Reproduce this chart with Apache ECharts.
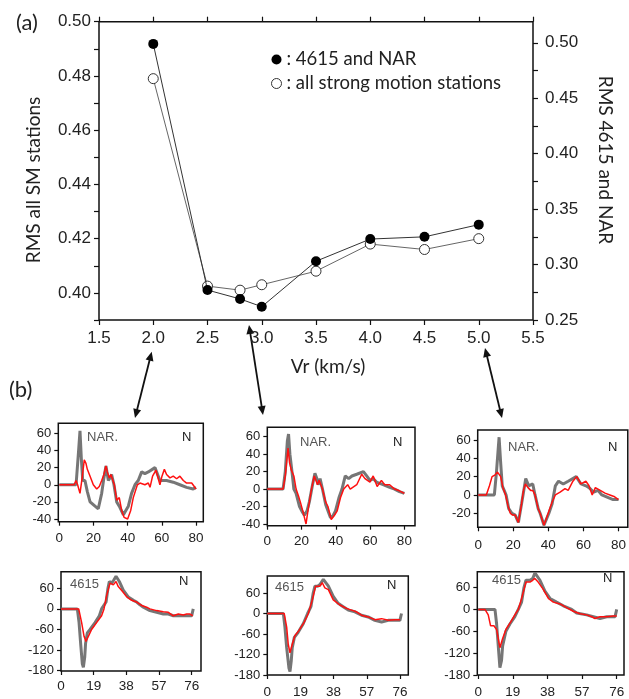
<!DOCTYPE html>
<html>
<head>
<meta charset="utf-8">
<script src="https://cdn.jsdelivr.net/npm/echarts@6/dist/echarts.min.js"></script>
<style>
  html, body { margin: 0; padding: 0; background: #fff; }
  #chart { width: 629px; height: 699px; }
</style>
</head>
<body>
<div id="chart"></div>
<script>
// ---------- (a) RMS misfit against rupture velocity ----------
const vr = [2.0, 2.5, 2.8, 3.0, 3.5, 4.0, 4.5, 5.0];
const rmsNarStations = [0.499, 0.277, 0.269, 0.262, 0.303, 0.323, 0.325, 0.336];
const rmsAllStations = [0.479, 0.4025, 0.401, 0.403, 0.408, 0.418, 0.416, 0.420];

const vrTicks = [1.5, 2.0, 2.5, 3.0, 3.5, 4.0, 4.5, 5.0, 5.5];
const leftTicks = [0.39, 0.40, 0.41, 0.42, 0.43, 0.44, 0.45, 0.46, 0.47, 0.48, 0.49, 0.50];
const leftLabels = [0.40, 0.42, 0.44, 0.46, 0.48, 0.50];
const rightTicks = [0.25, 0.275, 0.30, 0.325, 0.35, 0.375, 0.40, 0.425, 0.45, 0.475, 0.50];
const rightLabels = [0.25, 0.30, 0.35, 0.40, 0.45, 0.50];

// ---------- (b) waveforms: [time, value], observed (grey) and synthetic (red) ----------
const narObsVr20 = [[0,0],[9.8,0],[11.3,40],[12.1,63],[12.9,30],[13.7,5],[15.0,5],[16.4,-8],[18.0,-20],[20.9,-25],[22.8,-28],[24.8,-10],[26.1,8],[27.3,22],[28.7,5],[29.7,8],[30.6,12],[32.0,0],[33.6,-20],[35.1,-25],[37.5,-35],[40.4,-25],[42.3,-10],[44.3,0],[46.2,5],[48.2,15],[50.1,13],[52.1,15],[56.0,20],[57.0,18],[58.9,5],[62.8,5],[66.7,3],[70.6,0],[74.5,-3],[78.4,-5],[80,-3]];
const narSynVr20 = [[0,0],[8.6,0],[9.8,5],[10.7,0],[12.1,-10],[13.5,10],[14.6,29],[15.6,25],[16.4,18],[18.0,10],[19.9,0],[21.9,-5],[23.4,-2],[24.8,5],[26.1,12],[27.3,22],[28.1,15],[29.3,8],[30.2,12],[31.2,14],[32.2,0],[33.6,-18],[34.5,-20],[35.1,-15],[36.5,-30],[37.9,-38],[40.0,-40],[41.8,-30],[43.3,-15],[45.7,0],[47.2,2],[50.1,0],[52.1,2],[53.1,-3],[54.6,10],[56.6,17],[57.6,15],[58.9,0],[60.1,10],[61.5,18],[62.8,12],[64.8,8],[66.7,10],[68.7,7],[70.6,10],[72.6,5],[74.5,2],[77.5,2],[79.0,-2],[80,-5]];

const narObsVr28 = [[0,0],[9.2,0],[10.5,20],[11.7,55],[12.4,63],[13.2,40],[14.4,20],[15.5,0],[16.8,-5],[18.8,-20],[20.1,-25],[21.6,-30],[23.2,-25],[24.5,-15],[26.4,5],[27.8,18],[28.9,12],[29.7,5],[30.8,12],[32.2,0],[34.1,-18],[35.0,-20],[36.9,-33],[38.5,-30],[39.8,-25],[41.8,-10],[43.6,0],[45.5,15],[47.5,12],[49.4,15],[52.2,17],[56.1,20],[58.0,15],[59.9,10],[61.8,12],[63.7,8],[67.6,5],[71.4,2],[74.3,0],[77.1,-3],[80,-5]];
const narSynVr28 = [[0,0],[9.2,0],[10.5,15],[12.1,47],[13.0,30],[14.0,22],[15.5,15],[16.8,0],[18.2,-8],[19.3,-15],[20.7,-25],[22.6,-40],[24.1,-20],[25.8,0],[27.4,15],[28.3,17],[29.3,5],[30.2,10],[31.2,8],[32.2,0],[34.1,-15],[35.4,-20],[37.3,-35],[39.2,-30],[40.8,-25],[42.7,-10],[44.6,0],[46.9,5],[48.4,0],[49.4,-2],[52.2,5],[55.1,17],[57.0,12],[59.9,8],[61.8,15],[64.1,3],[66.6,10],[68.5,5],[71.4,5],[74.3,0],[77.1,-2],[80,-5]];

const narObsVr50 = [[0,0],[9.2,0],[10.4,25],[11.9,63],[12.8,35],[13.7,10],[14.8,5],[15.9,0],[17.4,-15],[19.2,-20],[21.1,-22],[22.9,-30],[24.7,-10],[26.0,5],[27.1,18],[28.8,10],[29.9,8],[31.1,12],[32.4,0],[34.2,-15],[35.3,-20],[36.4,-18],[37.5,-33],[40.3,-20],[42.1,-10],[44.0,10],[45.8,15],[48.5,12],[51.3,15],[55.9,20],[58.6,12],[61.4,10],[63.2,8],[65.9,3],[68.3,5],[70.5,0],[74.2,-3],[76.9,-5],[80,-5]];
const narSynVr50 = [[0,0],[4.6,0],[6.4,10],[7.9,20],[9.7,22],[11.0,25],[11.9,27],[12.8,20],[14.1,8],[15.6,0],[17.0,-12],[18.3,-20],[19.6,-22],[21.1,-22],[22.9,-30],[24.7,-10],[25.8,5],[26.9,12],[28.4,8],[29.9,5],[31.1,5],[32.4,0],[34.2,-15],[35.3,-20],[37.5,-33],[39.9,-20],[42.1,-8],[44.0,0],[46.7,3],[49.5,7],[51.3,5],[54.0,15],[56.2,20],[58.6,12],[61.4,15],[63.2,10],[65.0,0],[66.8,8],[69.6,5],[72.3,2],[75.1,0],[77.8,-2],[80,-5]];

const st4615ObsVr20 = [[0,0],[9.5,0],[10.5,-40],[11.4,-100],[12.4,-160],[13.0,-170],[13.8,-140],[14.3,-100],[15.3,-70],[16.9,-60],[19.8,-40],[22.3,-20],[23.6,0],[26.2,20],[27.3,60],[28.1,80],[29.5,75],[30.8,85],[32.0,95],[33.9,80],[36.2,55],[39.1,35],[42.1,25],[44.0,20],[45.9,12],[47.9,5],[51.7,-5],[55.6,-10],[59.5,-15],[62.4,-15],[65.3,-20],[69.2,-20],[73.1,-20],[76.0,-20],[76.9,0]];
const st4615SynVr20 = [[0,0],[10.3,0],[12.0,-40],[13.4,-80],[14.5,-95],[15.9,-80],[17.8,-60],[20.7,-40],[23.6,-20],[25.0,0],[26.6,40],[28.5,75],[30.4,70],[32.0,80],[33.3,65],[35.9,50],[38.2,35],[41.1,25],[44.0,20],[46.9,10],[49.8,5],[51.7,0],[52.7,5],[55.6,-5],[59.5,-8],[62.4,-10],[65.3,-20],[68.2,-15],[71.1,-18],[73.1,-15],[75.0,-15],[76.6,-20]];

const st4615ObsVr28 = [[0,0],[9.2,0],[10.1,-40],[11.1,-100],[12.4,-160],[13.0,-170],[13.7,-140],[14.3,-100],[15.5,-70],[17.7,-55],[20.6,-30],[23.1,0],[25.0,20],[26.3,60],[27.3,80],[28.8,80],[30.2,85],[32.1,100],[35.0,80],[37.8,50],[40.6,30],[43.5,20],[46.4,10],[50.2,5],[54.0,-5],[57.8,-10],[61.6,-20],[65.5,-25],[69.3,-20],[73.1,-20],[76.0,-20],[76.9,0]];
const st4615SynVr28 = [[0,0],[9.7,0],[11.1,-40],[12.0,-90],[13.0,-115],[14.3,-90],[15.8,-65],[18.1,-50],[21.2,-25],[23.5,0],[25.8,40],[27.7,80],[30.2,80],[31.5,90],[33.0,75],[35.0,70],[37.8,40],[41.6,25],[45.4,15],[48.3,10],[51.1,5],[54.0,-5],[57.8,-10],[61.6,-18],[65.5,-15],[69.3,-20],[73.1,-18],[76.0,-18]];

const st4615ObsVr50 = [[0,0],[9.2,0],[10.1,-40],[11.0,-100],[11.9,-160],[12.3,-165],[12.8,-140],[13.4,-100],[15.2,-60],[17.4,-40],[20.1,-20],[22.0,0],[23.8,20],[25.1,60],[26.2,80],[28.4,80],[29.9,85],[31.1,100],[33.9,80],[36.6,50],[39.4,30],[43.0,20],[46.7,10],[51.3,0],[54.0,-10],[59.5,-15],[63.2,-20],[66.8,-25],[70.5,-20],[75.1,-20],[76.0,0]];
const st4615SynVr50 = [[0,0],[3.7,0],[5.5,-15],[6.8,-45],[8.6,-45],[10.1,-55],[11.0,-80],[11.9,-105],[13.4,-80],[15.2,-55],[17.8,-35],[20.1,-15],[22.0,0],[23.8,30],[26.2,75],[28.4,75],[29.9,80],[31.1,85],[32.9,75],[35.7,55],[38.5,30],[41.2,20],[44.9,15],[48.5,5],[52.2,-5],[55.9,-12],[59.5,-15],[62.3,-20],[64.1,-25],[66.8,-20],[70.5,-20],[74.2,-18],[76.0,-18]];

const narTimeTicks = [0, 20, 40, 60, 80];
const st4615TimeTicks = [0, 19, 38, 57, 76];
const narAmpTicks = [-40, -20, 0, 20, 40, 60];
const narAmpTicksVr50 = [-20, 0, 20, 40, 60];
const st4615AmpTicks = [-180, -120, -60, 0, 60];

// ---------- layout ----------
const FONT = 'Liberation Sans';
const NAME_FONT = 'Lato';

const panels = [
  { box: [58.3, 423.3, 145, 98.4], x: [-0.6, 84.3], y: [-43.1, 71.7], xt: narTimeTicks, yt: narAmpTicks, obs: narObsVr20, syn: narSynVr20, margin: 10 },
  { box: [267.3, 427.3, 147.7, 98.4], x: [0, 86.2], y: [-42, 70.8], xt: narTimeTicks, yt: narAmpTicks, obs: narObsVr28, syn: narSynVr28, margin: 9 },
  { box: [477.7, 430, 156, 97.3], x: [-0.3, 85.3], y: [-35.3, 70.9], xt: narTimeTicks, yt: narAmpTicksVr50, obs: narObsVr50, syn: narSynVr50, margin: 11 },
  { box: [61, 571.7, 140, 99.3], x: [0, 81.4], y: [-181, 108.4], xt: st4615TimeTicks, yt: st4615AmpTicks, obs: st4615ObsVr20, syn: st4615SynVr20, margin: 8 },
  { box: [267.3, 576, 141, 100.7], x: [0, 80.8], y: [-180, 109.8], xt: st4615TimeTicks, yt: st4615AmpTicks, obs: st4615ObsVr28, syn: st4615SynVr28, margin: 10 },
  { box: [477.3, 571.7, 146.7, 104.3], x: [-0.5, 80], y: [-180, 103.5], xt: st4615TimeTicks, yt: st4615AmpTicks, obs: st4615ObsVr50, syn: st4615SynVr50, margin: 10 }
];

const panelText = [
  { t: 'NAR.', x: 87, y: 437, n: [182, 437] },
  { t: 'NAR.', x: 300, y: 442, n: [393, 442] },
  { t: 'NAR.', x: 508, y: 447, n: [608, 447] },
  { t: '4615', x: 70, y: 584, n: [179, 581] },
  { t: '4615', x: 275, y: 587, n: [387, 585] },
  { t: '4615', x: 492, y: 580, n: [603, 578] }
];

const tickStyle = { color: '#111', width: 1.2 };
const noLine = { show: false, onZero: false };

const grids = [{ left: 99, top: 21.7, width: 434, height: 298.3, show: true, borderColor: '#111', borderWidth: 1.5, backgroundColor: 'transparent' }];
const xAxes = [
  { gridIndex: 0, type: 'value', position: 'bottom', min: 1.5, max: 5.5,
    axisLine: noLine, splitLine: { show: false },
    axisTick: { show: true, inside: false, length: 5, customValues: vrTicks, lineStyle: tickStyle },
    axisLabel: { customValues: vrTicks, formatter: v => v.toFixed(1), fontFamily: FONT, fontSize: 17, color: '#222', margin: 10 } },
  { gridIndex: 0, type: 'value', position: 'top', min: 1.5, max: 5.5,
    axisLine: noLine, splitLine: { show: false },
    axisTick: { show: true, inside: false, length: 5, customValues: vrTicks, lineStyle: tickStyle },
    axisLabel: { show: false } }
];
const yAxes = [
  { gridIndex: 0, type: 'value', position: 'left', min: 0.39, max: 0.50,
    axisLine: noLine, splitLine: { show: false },
    axisTick: { show: true, inside: false, length: 5, customValues: leftTicks, lineStyle: tickStyle },
    axisLabel: { customValues: leftLabels, formatter: v => v.toFixed(2), fontFamily: FONT, fontSize: 17, color: '#222', margin: 8 } },
  { gridIndex: 0, type: 'value', position: 'right', min: 0.25, max: 0.519,
    axisLine: noLine, splitLine: { show: false },
    axisTick: { show: true, inside: false, length: 5, customValues: rightTicks, lineStyle: tickStyle },
    axisLabel: { customValues: rightLabels, formatter: v => v.toFixed(2), fontFamily: FONT, fontSize: 17, color: '#222', margin: 12 } }
];
const series = [
  { type: 'line', name: 'all strong motion stations', xAxisIndex: 0, yAxisIndex: 0,
    data: vr.map((v, i) => [v, rmsAllStations[i]]),
    symbol: 'circle', symbolSize: 10,
    itemStyle: { color: '#fff', borderColor: '#333', borderWidth: 1 },
    lineStyle: { color: '#666', width: 1 }, z: 3 },
  { type: 'line', name: '4615 and NAR', xAxisIndex: 0, yAxisIndex: 1,
    data: vr.map((v, i) => [v, rmsNarStations[i]]),
    symbol: 'circle', symbolSize: 10,
    itemStyle: { color: '#000' },
    lineStyle: { color: '#333', width: 1 }, z: 4 }
];

panels.forEach((p, k) => {
  const gi = k + 1;          // grid of this panel
  const ai = xAxes.length;   // axis index of this panel (same for x and y)
  grids.push({ left: p.box[0], top: p.box[1], width: p.box[2], height: p.box[3], show: true, borderColor: '#111', borderWidth: 1.5, backgroundColor: 'transparent' });
  xAxes.push({ gridIndex: gi, type: 'value', position: 'bottom', min: p.x[0], max: p.x[1],
    axisLine: noLine, splitLine: { show: false },
    axisTick: { show: true, inside: false, length: 4, customValues: p.xt, lineStyle: tickStyle },
    axisLabel: { customValues: p.xt, fontFamily: FONT, fontSize: 13.5, color: '#222', margin: p.margin } });
  yAxes.push({ gridIndex: gi, type: 'value', position: 'left', min: p.y[0], max: p.y[1],
    axisLine: noLine, splitLine: { show: false },
    axisTick: { show: true, inside: false, length: 4, customValues: p.yt, lineStyle: tickStyle },
    axisLabel: { customValues: p.yt, fontFamily: FONT, fontSize: 13, color: '#222', margin: 7 } });
  series.push({ type: 'line', name: 'observed ' + gi, xAxisIndex: ai, yAxisIndex: ai, data: p.obs,
    showSymbol: false, symbol: 'none', clip: true,
    lineStyle: { color: '#6f6f6f', width: 3, opacity: 0.95 }, z: 2 });
  series.push({ type: 'line', name: 'synthetic ' + gi, xAxisIndex: ai, yAxisIndex: ai, data: p.syn,
    showSymbol: false, symbol: 'none', clip: true,
    lineStyle: { color: '#ff1010', width: 1.5 }, z: 3 });
});

// double-headed arrow made of a shaft and two filled heads
function arrow(x1, y1, x2, y2) {
  const dx = x2 - x1, dy = y2 - y1, len = Math.hypot(dx, dy);
  const ux = dx / len, uy = dy / len, px = -uy, py = ux;
  const hl = 9, hw = 4;
  const head = (tx, ty, sx, sy) => ({
    type: 'polygon',
    shape: { points: [[tx, ty], [tx + sx * hl + px * hw, ty + sy * hl + py * hw], [tx + sx * hl - px * hw, ty + sy * hl - py * hw]] },
    style: { fill: '#111' }
  });
  return [
    { type: 'line', shape: { x1: x1 + ux * hl * 0.8, y1: y1 + uy * hl * 0.8, x2: x2 - ux * hl * 0.8, y2: y2 - uy * hl * 0.8 }, style: { stroke: '#111', lineWidth: 1.8 } },
    head(x1, y1, ux, uy),
    head(x2, y2, -ux, -uy)
  ];
}

const graphics = [
  { type: 'text', left: 16, top: 12, style: { text: '(a)', fontFamily: NAME_FONT, fontSize: 22, fill: '#222' } },
  { type: 'text', left: 9, top: 379, style: { text: '(b)', fontFamily: NAME_FONT, fontSize: 22, fill: '#222' } },
  { type: 'text', x: 34, y: 180, rotation: Math.PI / 2, style: { text: 'RMS all SM stations', fontFamily: NAME_FONT, fontSize: 19, fill: '#222', align: 'center', verticalAlign: 'middle' } },
  { type: 'text', x: 605, y: 160, rotation: -Math.PI / 2, style: { text: 'RMS 4615 and NAR', fontFamily: NAME_FONT, fontSize: 19, fill: '#222', align: 'center', verticalAlign: 'middle' } },
  { type: 'text', x: 328, y: 367, style: { text: 'Vr (km/s)', fontFamily: NAME_FONT, fontSize: 19, fill: '#222', align: 'center', verticalAlign: 'middle' } }
].concat(
  arrow(151.7, 351.7, 135, 418),
  arrow(249, 325, 263, 415),
  arrow(485, 348, 502, 418)
);

panelText.forEach(s => {
  graphics.push({ type: 'text', x: s.x, y: s.y, z: 10, style: { text: s.t, fontFamily: FONT, fontSize: 13, fill: '#555', verticalAlign: 'middle' } });
  graphics.push({ type: 'text', x: s.n[0], y: s.n[1], z: 10, style: { text: 'N', fontFamily: FONT, fontSize: 13, fill: '#222', verticalAlign: 'middle' } });
});

const chart = echarts.init(document.getElementById('chart'), null, { renderer: 'canvas' });
chart.setOption({
  animation: false,
  backgroundColor: '#fff',
  textStyle: { fontFamily: FONT },
  legend: {
    orient: 'vertical', left: 266, top: 45, itemWidth: 10, itemHeight: 10, itemGap: 5,
    selectedMode: false, formatter: ': {name}',
    textStyle: { fontFamily: NAME_FONT, fontSize: 18.5, color: '#222' },
    data: [
      { name: '4615 and NAR', icon: 'circle', itemStyle: { color: '#000', borderWidth: 0 } },
      { name: 'all strong motion stations', icon: 'circle', itemStyle: { color: '#fff', borderColor: '#333', borderWidth: 1 } }
    ]
  },
  grid: grids,
  xAxis: xAxes,
  yAxis: yAxes,
  series: series,
  graphic: graphics
});
</script>
</body>
</html>
